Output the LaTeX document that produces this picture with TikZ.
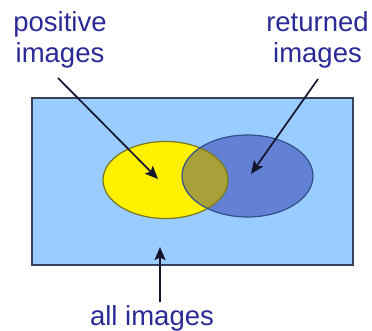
\documentclass[tikz,border=0pt]{standalone}
\usepackage{fontspec}
\setmainfont{Liberation Sans}
\usetikzlibrary{arrows.meta}
\definecolor{txtblue}{RGB}{42,42,150}
\definecolor{bgblue}{RGB}{153,204,255}
\definecolor{rectline}{RGB}{55,65,90}
\definecolor{ylwline}{RGB}{120,120,30}
\definecolor{bluefill}{RGB}{98,128,212}
\definecolor{blueline}{RGB}{50,80,140}
\definecolor{olive}{RGB}{168,160,56}
\definecolor{arrowc}{RGB}{20,20,45}
\tikzset{
  lbl/.style={text=txtblue, font=\fontsize{27.5}{31.5}\selectfont, align=center, inner sep=0pt},
  ptr/.style={draw=arrowc, line width=1.7pt, -{Stealth[length=13pt,width=11pt,inset=2.5pt]}},
}
\begin{document}
\begin{tikzpicture}[x=1pt,y=-1pt]
\useasboundingbox (0,0) rectangle (372,331);
% universe
\node[draw=rectline, line width=1.4pt, fill=bgblue, minimum width=321pt, minimum height=167pt, inner sep=0pt] (all) at (192.5,181.5) {};
% ellipses fills
\fill[yellow] (165.5,180) ellipse [x radius=62.5, y radius=38.5];
\fill[bluefill] (247.5,176) ellipse [x radius=65.5, y radius=41];
\begin{scope}
  \clip (165.5,180) ellipse [x radius=62.5, y radius=38.5];
  \fill[olive] (247.5,176) ellipse [x radius=65.5, y radius=41];
\end{scope}
% outlines
\draw[ylwline, line width=1.2pt] (165.5,180) ellipse [x radius=62.5, y radius=38.5];
\draw[blueline, line width=1.2pt] (247.5,176) ellipse [x radius=65.5, y radius=41];
% labels
\node[lbl] (pos) at (60,40) {positive\\images};
\node[lbl] (ret) at (317.5,40) {returned\\images};
\node[lbl, anchor=base] (alli) at (152,325) {all images};
% arrow ends
\coordinate (ps) at (58,78);
\coordinate (pt) at (158,179);
\coordinate (rs) at (318,79);
\coordinate (rt) at (251,174);
\coordinate (as) at (160,302);
\coordinate (at) at (160,247);
\draw[ptr] (ps) -- (pt);
\draw[ptr] (rs) -- (rt);
\draw[ptr] (as) -- (at);
\end{tikzpicture}
\end{document}
